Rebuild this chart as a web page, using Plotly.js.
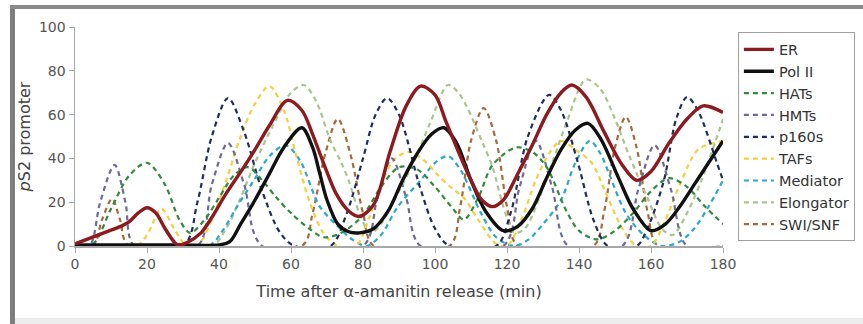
<!DOCTYPE html>
<html>
<head>
<meta charset="utf-8">
<script src="https://cdn.plot.ly/plotly-3.0.1.min.js"></script>
<style>
  html, body { margin: 0; padding: 0; background: #ffffff; }
  #wrap { position: relative; width: 863px; height: 324px; overflow: hidden; background: #ffffff; }
  #frameLeft { position: absolute; left: 10px; top: 5px; width: 5px; height: 319px; background: #7d7d7d; }
  #frameTop { position: absolute; left: 10px; top: 5px; width: 853px; height: 4px; background: #8a8a8a; }
  #frameBottom { position: absolute; left: 15px; top: 318px; width: 848px; height: 6px; background: #ededed; }
  #chart { position: absolute; left: 0; top: 0; width: 863px; height: 324px; }
</style>
</head>
<body>
<div id="wrap">
  <div id="frameLeft"></div>
  <div id="frameTop"></div>
  <div id="frameBottom"></div>
  <div id="chart"></div>
</div>
<script>
// ---- data (time in min, signal in %) ----
const seriesNames = ["ER", "Pol II", "HATs", "HMTs", "p160s", "TAFs", "Mediator", "Elongator", "SWI/SNF"];

const erT = [0, 4, 8, 12, 15, 17.5, 20, 22.5, 25, 28.5, 31, 35, 38, 42, 46.5, 50, 54, 59, 63, 66, 69, 72.5, 76, 79, 83, 87.5, 92, 96, 100, 103, 106, 110, 113, 116, 119, 123, 127, 131, 135, 138, 142, 147, 152, 156, 160, 165, 170, 174.5, 180];
const erV = [1, 3.5, 6, 8.5, 11, 15, 17.5, 15, 8, 0.5, 1.5, 6, 13, 24, 35, 44, 55, 66.5, 62, 51, 38, 24, 16, 13.5, 19, 43, 64, 73, 69, 57, 45, 30, 21, 18, 21, 33, 46, 60, 70, 73.5, 68, 52, 37, 30, 34, 47, 58, 64, 61];

const polT = [0, 10, 20, 30, 40, 43, 46, 50, 54, 58, 63, 66, 68, 70, 73, 76, 79, 83, 87, 91, 95, 99, 102.5, 106, 110, 114, 119, 123, 127, 131, 135, 139, 142.5, 146, 151, 155, 160, 164, 168, 172, 176, 180];
const polV = [0.5, 0.5, 0.5, 0.5, 0.5, 2, 10, 21, 33, 45, 54, 45, 33, 21, 10, 6.5, 6, 8, 16, 30, 42, 51, 54, 47, 30, 16, 7, 9, 17, 31, 44, 53, 56, 49, 31, 17, 7, 10, 18, 28, 38, 48];

const hatsT = [0, 5, 10, 15, 20, 25, 29, 32, 36, 40, 44, 48, 52, 56, 60, 65, 69, 74, 80, 85, 90, 95, 100, 105, 108, 112, 116, 122.5, 127, 131, 136.5, 140, 145, 150, 155, 160, 165, 170, 175, 180];
const hatsV = [0, 1, 17, 32, 38, 28, 12, 6, 12, 22, 32, 36, 30, 22, 15, 8, 4, 6, 14, 27, 36, 35, 27, 17, 12, 22, 37, 45, 43, 36, 16, 7, 3, 7, 15, 25, 31, 27, 18, 10];

const hmtsT = [0, 4, 7, 11, 14, 16.5, 34, 38, 42.5, 47, 52, 80, 84, 88, 92, 96, 119, 123.5, 128, 132.5, 137, 152, 156.5, 161, 165.5, 170, 180];
const hmtsV = [0, 0, 20, 37, 20, 0, 0, 28, 47, 28, 0, 0, 22, 40, 22, 0, 0, 27, 48, 27, 0, 0, 26, 46, 26, 0, 0];

const p160T = [0, 30, 34, 38, 42.5, 47, 52, 57, 61, 71, 75.5, 80, 83.5, 86.7, 90, 95.8, 100, 104, 117, 121, 125.8, 131.7, 135, 139.7, 144, 148, 156, 159, 163.6, 167, 170, 173, 178.3, 180];
const p160V = [0, 0, 20, 50, 67.5, 52, 25, 6, 0, 0, 15, 40, 60, 67.5, 60, 27, 8, 0, 0, 15, 50, 69, 62, 38, 12, 0, 0, 8, 30, 58, 68, 62, 38, 30];

const tafsT = [0, 17, 20, 24, 27.5, 31, 34, 38, 42, 46, 50, 54, 58, 61.5, 65, 69, 73, 78, 82, 86, 89, 93, 97, 101, 105, 108, 112, 117, 120, 124, 128, 132, 135, 139, 143.5, 147, 152, 156, 160, 164, 168, 173, 177.5, 180];
const tafsV = [0, 0, 5, 17, 8, 0, 0, 12, 30, 50, 65, 73, 62, 41, 21, 6, 0, 0, 14, 32, 40, 43, 39, 32, 26, 22, 12, 1, 0, 12, 30, 43, 48, 44, 38, 26, 8, 0, 0, 12, 28, 44, 47, 48];

const medT = [0, 37, 41, 45, 49.7, 54, 58.5, 62.5, 68, 73, 77, 81, 85, 89.7, 96, 100, 103.6, 107, 112.8, 117, 122, 126, 130, 135, 139, 143, 146, 148.6, 153, 158, 163, 168, 172, 176, 180];
const medV = [0, 0, 7, 18, 30, 41, 46, 39, 18, 9, 3, 0, 5, 18, 30, 38, 41, 35, 15, 4, 0, 3, 10, 21, 38, 48, 42, 32, 15, 5, 0, 2, 8, 18, 30];

const elongT = [0, 38, 42, 46, 50, 55, 60, 63.6, 67, 71, 74, 76, 79, 82, 85, 89, 94, 98.6, 103.6, 106.5, 109, 113, 116, 119, 122, 125, 129, 133, 136.7, 141.9, 145.8, 150, 154, 159, 163, 166, 170, 174, 179, 180];
const elongV = [0, 0, 8, 22, 38, 55, 70, 73.5, 66, 48, 38, 30, 15, 6, 10, 22, 38, 56, 73.5, 70, 63, 48, 36, 18, 6, 8, 22, 40, 57, 76, 72, 58, 41, 22, 8, 5, 15, 30, 53, 58];

const swiT = [0, 5, 7.5, 10.3, 12.5, 15, 63, 66, 69.5, 73, 76.5, 80, 83, 104, 107, 110, 113.5, 117, 120, 123, 144, 147, 150, 153, 156, 159, 162, 180];
const swiV = [0, 0, 12, 21.5, 12, 0, 0, 15, 42, 58, 42, 15, 0, 0, 18, 48, 63, 48, 18, 0, 0, 16, 45, 59, 45, 16, 0, 0];

const xTicks = [0, 20, 40, 60, 80, 100, 120, 140, 160, 180];
const yTicks = [0, 20, 40, 60, 80, 100];

// ---- styling ----
const colors = {
  "ER": "#8c1a1f", "Pol II": "#111111", "HATs": "#2e8b3e", "HMTs": "#6e6a96",
  "p160s": "#1f2d5c", "TAFs": "#f3d03c", "Mediator": "#2aa9cc", "Elongator": "#a9c48c", "SWI/SNF": "#a8683a"
};

function dashed(name, x, y, rank) {
  return {
    type: "scatter", mode: "lines", name: name, x: x, y: y,
    line: { color: colors[name], width: 2.2, dash: "5px,4px", shape: "spline", smoothing: 0.9 },
    legendrank: rank, cliponaxis: false, hoverinfo: "skip"
  };
}
function solid(name, x, y, rank) {
  return {
    type: "scatter", mode: "lines", name: name, x: x, y: y,
    line: { color: colors[name], width: 3.4, shape: "spline", smoothing: 0.9 },
    legendrank: rank, cliponaxis: false, hoverinfo: "skip"
  };
}

const traces = [
  dashed("SWI/SNF", swiT, swiV, 9),
  dashed("Elongator", elongT, elongV, 8),
  dashed("Mediator", medT, medV, 7),
  dashed("TAFs", tafsT, tafsV, 6),
  dashed("p160s", p160T, p160V, 5),
  dashed("HMTs", hmtsT, hmtsV, 4),
  dashed("HATs", hatsT, hatsV, 3),
  solid("Pol II", polT, polV, 2),
  solid("ER", erT, erV, 1)
];

const fontFam = "DejaVu Sans, Arial, sans-serif";
const layout = {
  width: 863, height: 324,
  margin: { l: 75, r: 140, t: 27, b: 78, pad: 0, autoexpand: false },
  paper_bgcolor: "rgba(0,0,0,0)",
  plot_bgcolor: "rgba(0,0,0,0)",
  font: { family: fontFam, color: "#444" },
  showlegend: true,
  legend: {
    x: 1.023, xanchor: "left", y: 0.975, yanchor: "top",
    bgcolor: "#ffffff", bordercolor: "#a0a0a0", borderwidth: 1,
    font: { family: fontFam, size: 14.5, color: "#333" },
    traceorder: "normal"
  },
  xaxis: {
    range: [0, 180], tickvals: xTicks, ticktext: xTicks.map(String),
    showline: true, linecolor: "#a8a8a8", linewidth: 1.5,
    ticks: "outside", ticklen: 5, tickcolor: "#a8a8a8",
    tickfont: { family: fontFam, size: 14, color: "#555" },
    showgrid: false, zeroline: false, automargin: false,
    title: { text: "Time after α-amanitin release (min)", font: { family: fontFam, size: 16, color: "#444" }, standoff: 14 }
  },
  yaxis: {
    range: [0, 100], tickvals: yTicks, ticktext: yTicks.map(String),
    showline: true, linecolor: "#a8a8a8", linewidth: 1.5,
    ticks: "outside", ticklen: 5, tickcolor: "#a8a8a8",
    tickfont: { family: fontFam, size: 14, color: "#555" },
    showgrid: false, zeroline: false, automargin: false,
    title: { text: "<i>p</i>S2 promoter", font: { family: fontFam, size: 16, color: "#444" }, standoff: 4 }
  }
};

Plotly.newPlot("chart", traces, layout, { staticPlot: true, displayModeBar: false });
</script>
</body>
</html>
